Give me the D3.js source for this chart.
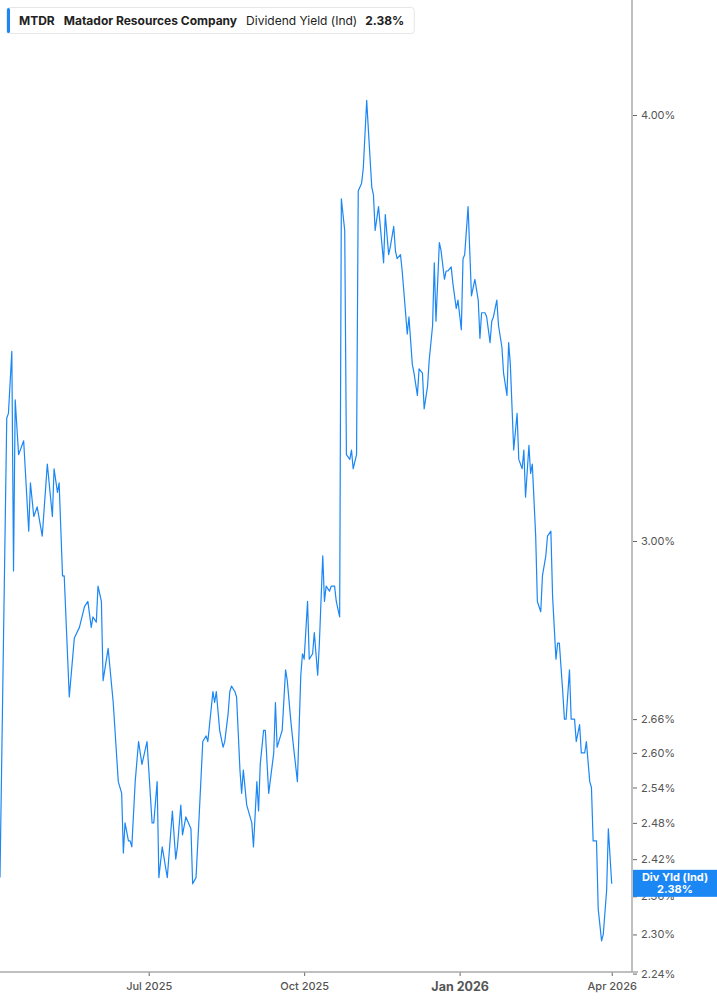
<!DOCTYPE html>
<html>
<head>
<meta charset="utf-8">
<script src="https://cdn.jsdelivr.net/npm/d3@7"></script>
<style>
  body { margin: 0; background: #fff; font-family: Inter, "Noto Sans", sans-serif; }
  svg { display: block; }
</style>
</head>
<body>
<svg id="chart" width="717" height="1005"></svg>
<script>
// series start date; each point is days after it
const startDate = new Date(2025, 3, 4);
const dayOffsets = [0,4,5,7,8,9,11,14,17,18,20,22,25,28,31,32,34,35,37,38,41,44,47,50,52,54,55,57,58,60,61,64,67,70,72,73,74,76,77,78,80,82,84,87,90,91,93,94,96,99,102,104,105,107,108,110,113,114,116,118,120,122,123,126,127,128,130,132,133,135,136,137,139,140,142,143,144,146,149,150,152,153,154,156,157,159,162,163,164,166,167,169,170,172,173,176,178,179,180,182,183,185,186,188,189,191,192,193,195,196,198,199,201,202,204,205,207,208,209,211,212,214,215,217,218,220,221,222,224,227,228,230,231,233,234,235,237,238,239,241,242,244,245,247,248,250,251,253,254,256,257,258,260,261,263,264,265,267,268,270,271,273,274,275,277,279,280,281,283,284,285,287,288,290,291,292,294,295,297,298,300,301,302,304,306,307,309,310,311,313,314,315,317,318,320,321,323,324,326,327,329,330,331,333,334,335,337,338,340,341,343,344,346,347,349,350,351,353,354,356,357,359,360,362];
const yieldValues = [2.39,3.26,3.27,3.41,2.94,3.30,3.18,3.21,3.02,3.12,3.05,3.07,3.01,3.16,3.05,3.15,3.10,3.12,2.93,2.93,2.70,2.81,2.83,2.87,2.88,2.83,2.85,2.84,2.91,2.88,2.73,2.79,2.69,2.55,2.53,2.43,2.48,2.45,2.45,2.44,2.55,2.62,2.58,2.62,2.48,2.48,2.55,2.39,2.44,2.39,2.50,2.42,2.44,2.51,2.46,2.49,2.47,2.38,2.39,2.50,2.62,2.63,2.62,2.71,2.69,2.71,2.64,2.61,2.62,2.67,2.71,2.72,2.71,2.70,2.57,2.53,2.57,2.51,2.48,2.44,2.55,2.50,2.58,2.64,2.64,2.53,2.60,2.69,2.61,2.63,2.64,2.75,2.73,2.66,2.63,2.55,2.74,2.78,2.77,2.88,2.77,2.78,2.82,2.74,2.80,2.97,2.88,2.91,2.90,2.91,2.91,2.88,2.85,3.78,3.70,3.18,3.17,3.19,3.15,3.18,3.80,3.82,3.86,4.04,3.96,3.81,3.79,3.70,3.76,3.62,3.74,3.64,3.66,3.71,3.65,3.63,3.64,3.60,3.55,3.45,3.49,3.38,3.36,3.31,3.37,3.36,3.28,3.33,3.39,3.47,3.62,3.48,3.67,3.65,3.58,3.60,3.60,3.61,3.57,3.51,3.53,3.46,3.63,3.64,3.76,3.54,3.56,3.58,3.53,3.44,3.50,3.50,3.49,3.43,3.48,3.49,3.53,3.47,3.42,3.36,3.31,3.43,3.38,3.19,3.27,3.17,3.15,3.19,3.09,3.20,3.14,3.16,3.01,2.88,2.86,2.93,2.97,3.01,3.02,2.89,2.77,2.80,2.80,2.71,2.66,2.66,2.75,2.66,2.66,2.62,2.65,2.60,2.60,2.62,2.55,2.54,2.45,2.45,2.34,2.29,2.30,2.37,2.47,2.38];
const yTickValues = [4.00, 3.00, 2.66, 2.60, 2.54, 2.48, 2.42, 2.36, 2.30, 2.24];
const xTickDates = [new Date(2025, 6, 1), new Date(2025, 9, 1), new Date(2026, 0, 1), new Date(2026, 3, 1)];
const xTickLabels = ["Jul 2025", "Oct 2025", "Jan 2026", "Apr 2026"];
const lastValue = 2.38;

const blue = "#1a87f5";
const axisX = 632, axisY = 972;

const svg = d3.select("#chart");

const x = d3.scaleTime()
  .domain([startDate, new Date(2026, 3, 13)])
  .range([0, axisX]);
const y = d3.scaleLog()
  .domain([3, 4])
  .range([541, 115]);

const points = dayOffsets.map((d, i) => ({ date: d3.timeDay.offset(startDate, d), v: yieldValues[i] }));

// the line
svg.append("path")
  .datum(points)
  .attr("fill", "none")
  .attr("stroke", blue)
  .attr("stroke-width", 1.2)
  .attr("stroke-linejoin", "round")
  .attr("d", d3.line().x(d => x(d.date)).y(d => y(d.v)));

// right axis
const yAxis = svg.append("g").attr("transform", `translate(${axisX},0)`)
  .call(d3.axisRight(y).tickValues(yTickValues).tickSize(4).tickPadding(5).tickFormat(d => d.toFixed(2) + "%"));
yAxis.select(".domain").remove();
yAxis.selectAll("line").attr("stroke", "#666").attr("transform", "translate(1,0)");
yAxis.selectAll("text").attr("fill", "#555").style("font-size", "11px").style("font-family", "Inter, sans-serif");
svg.append("line").attr("x1", axisX).attr("x2", axisX).attr("y1", 0).attr("y2", axisY)
  .attr("stroke", "#aaa").attr("stroke-width", 1.5);

// bottom axis
const xAxis = svg.append("g").attr("transform", `translate(0,${axisY})`)
  .call(d3.axisBottom(x).tickValues(xTickDates).tickSize(4).tickPadding(6)
    .tickFormat((d, i) => xTickLabels[i]));
xAxis.select(".domain").remove();
xAxis.selectAll("line").attr("stroke", "#666");
xAxis.selectAll("text").attr("fill", "#555").style("font-family", "Inter, sans-serif")
  .style("font-weight", (d, i) => i === 2 ? "700" : "500")
  .style("font-size", (d, i) => i === 2 ? "12.5px" : "11px");
svg.append("line").attr("x1", 0).attr("x2", axisX + 6).attr("y1", axisY).attr("y2", axisY)
  .attr("stroke", "#aaa").attr("stroke-width", 1.5);

// last value label
const ly = y(lastValue);
svg.append("rect").attr("x", axisX + 1).attr("y", ly - 14).attr("width", 717 - axisX).attr("height", 27).attr("fill", blue);
svg.append("text").attr("x", 675).attr("y", ly - 3).attr("text-anchor", "middle")
  .attr("fill", "#fff").style("font-size", "11px").style("font-weight", "700").text("Div Yld (Ind)");
svg.append("text").attr("x", 675).attr("y", ly + 9).attr("text-anchor", "middle")
  .attr("fill", "#fff").style("font-size", "11px").style("font-weight", "700").text(lastValue.toFixed(2) + "%");

// legend: items laid out one after another
const lg = svg.append("g");
const box = lg.append("rect").attr("x", 6.5).attr("y", 7.5).attr("height", 26).attr("rx", 3)
  .attr("fill", "#fff").attr("stroke", "#e6e6e6");
lg.append("rect").attr("x", 7).attr("y", 8).attr("width", 3).attr("height", 25).attr("rx", 1.5).attr("fill", blue);
const legendParts = [
  { t: "MTDR", w: 700, gap: 9 },
  { t: "Matador Resources Company", w: 700, gap: 9 },
  { t: "Dividend Yield (Ind)", w: 400, gap: 8 },
  { t: lastValue.toFixed(2) + "%", w: 700, gap: 0 }
];
let lx = 19;
legendParts.forEach(p => {
  const t = lg.append("text").attr("x", lx).attr("y", 25)
    .attr("fill", "#222").style("font-size", "12px").style("font-weight", p.w).text(p.t);
  lx += t.node().getComputedTextLength() + p.gap;
});
box.attr("width", lx + 10 - 6.5);
</script>
</body>
</html>
